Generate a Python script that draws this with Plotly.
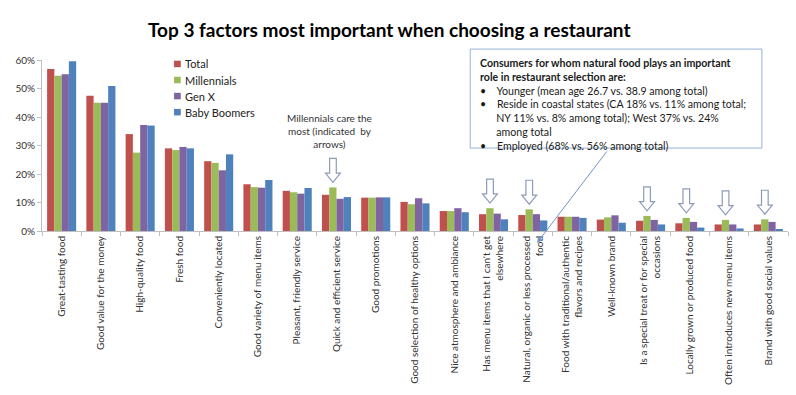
import plotly.graph_objects as go

categories = [
    "Great-tasting food",
    "Good value for the money",
    "High-quality food",
    "Fresh food",
    "Conveniently located",
    "Good variety of menu items",
    "Pleasant, friendly service",
    "Quick and efficient service",
    "Good promotions",
    "Good selection of healthy options",
    "Nice atmosphere and ambiance",
    "Has menu items that I can't get<br>elsewhere",
    "Natural, organic or less processed<br>food",
    "Food with traditional/authentic<br>flavors and recipes",
    "Well-known brand",
    "Is a special treat or for special<br>occasions",
    "Locally grown or produced food",
    "Often introduces new menu items",
    "Brand with good social values",
]

total = [56.8, 47.5, 34.0, 29.0, 24.5, 16.4, 14.1, 12.7, 11.7, 10.2, 7.0, 5.9, 5.6, 5.0, 4.0, 3.6, 2.7, 2.3, 2.3]
millennials = [54.5, 45.0, 27.5, 28.4, 23.9, 15.4, 13.6, 15.3, 11.7, 9.4, 7.0, 8.0, 7.6, 5.0, 4.8, 5.3, 4.6, 3.9, 4.1]
gen_x = [55.0, 45.0, 37.2, 29.5, 21.3, 15.2, 13.1, 11.3, 11.8, 11.5, 8.0, 6.1, 5.9, 5.0, 5.5, 3.9, 3.2, 2.3, 3.2]
baby_boomers = [59.6, 50.9, 37.0, 29.0, 26.9, 17.9, 15.1, 11.9, 11.8, 9.7, 6.6, 4.1, 3.7, 4.6, 2.9, 2.3, 1.2, 0.9, 0.6]

series_names = ["Total", "Millennials", "Gen X", "Baby Boomers"]
series_colors = ["#C0504D", "#9BBB59", "#8064A2", "#4F81BD"]

# categories where Millennials care the most (indicated by arrows)
arrow_categories = [7, 11, 12, 15, 16, 17, 18]

FONT = "Lato"

fig = go.Figure()
for name, vals, col in zip(series_names, [total, millennials, gen_x, baby_boomers], series_colors):
    fig.add_trace(go.Bar(
        name=name, x=categories, y=[v / 100 for v in vals],
        marker=dict(color=col, line=dict(width=0)), showlegend=False,
    ))

# compact legend (drawn in paper coordinates)
for k, (name, col) in enumerate(zip(series_names, series_colors)):
    yc = 0.977 - k * 0.094
    fig.add_shape(type="rect", xref="paper", yref="paper",
                  x0=0.177, x1=0.186, y0=yc - 0.019, y1=yc + 0.019,
                  line=dict(width=0), fillcolor=col)
    fig.add_annotation(xref="paper", yref="paper", x=0.189, y=yc,
                       xanchor="left", yanchor="middle", text=name, showarrow=False,
                       font=dict(family=FONT, size=11, color="#222222"))

# hollow down arrows above Millennials bars
for i in arrow_categories:
    xc = i - 0.09
    base = (millennials[i] + 1.8) / 100
    top = base + 0.084
    head = base + 0.032
    sw, hw = 0.085, 0.19
    path = (f"M {xc - sw} {top} L {xc + sw} {top} L {xc + sw} {head} "
            f"L {xc + hw} {head} L {xc} {base} L {xc - hw} {head} "
            f"L {xc - sw} {head} Z")
    fig.add_shape(type="path", path=path, xref="x", yref="y",
                  line=dict(color="#8C9CB8", width=1.2), fillcolor="white")

# call-out box
fig.add_shape(type="rect", xref="paper", yref="paper",
              x0=0.574, x1=0.965, y0=0.485, y1=1.064,
              line=dict(color="#95B3D7", width=1), fillcolor="white", layer="above")

nb = "\u00a0"
box_text = (
    "<b>Consumers for whom natural food plays an important<br>"
    "role in restaurant selection are:</b><br>"
    f"\u2022{nb*4}Younger (mean age 26.7 vs. 38.9 among total)<br>"
    f"\u2022{nb*4}Reside in coastal states (CA 18% vs. 11% among total;<br>"
    f"{nb*6}NY 11% vs. 8% among total); West 37% vs. 24%<br>"
    f"{nb*6}among total<br>"
    f"\u2022{nb*4}Employed (68% vs. 56% among total)"
)
fig.add_annotation(xref="paper", yref="paper", x=0.584, y=1.032,
                   xanchor="left", yanchor="top", align="left",
                   text=box_text, showarrow=False,
                   font=dict(family=FONT, size=10.6, color="#1a1a1a"))

# connector arrow to "Natural, organic..." label
fig.add_annotation(xref="paper", yref="paper", x=0.6635, y=-0.07,
                   ax=71, ay=-93, text="", showarrow=True,
                   arrowhead=2, arrowsize=1.2, arrowwidth=1, arrowcolor="#6F95C9")

fig.add_annotation(xref="paper", yref="paper", x=0.386, y=0.71,
                   xanchor="center", yanchor="top", align="center",
                   text="Millennials care the<br>most (indicated  by<br>arrows)",
                   showarrow=False, font=dict(family=FONT, size=10, color="#333333"))

fig.update_layout(
    width=796, height=395,
    margin=dict(l=42, r=8, t=60, b=164, autoexpand=False),
    paper_bgcolor="white", plot_bgcolor="white",
    barmode="group", bargap=0.26, bargroupgap=0,
    title=dict(text="<b>Top 3 factors most important when choosing a restaurant</b>",
               x=0.489, xanchor="center", y=0.924, yanchor="middle",
               font=dict(family=FONT, size=19, color="#000000")),
    showlegend=False,
    font=dict(family=FONT),
)
fig.update_xaxes(type="category", tickson="boundaries", ticks="outside", ticklen=4,
                 tickcolor="#BFBFBF", showline=True, linecolor="#BFBFBF",
                 tickangle=-90, tickfont=dict(family=FONT, size=10, color="#333333"),
                 showgrid=False, automargin=False)
fig.update_yaxes(range=[0, 0.6], tickvals=[0, 0.1, 0.2, 0.3, 0.4, 0.5, 0.6],
                 tickformat=".0%", ticks="outside", ticklen=4, tickcolor="#BFBFBF",
                 showline=True, linecolor="#BFBFBF", showgrid=False, zeroline=False,
                 tickfont=dict(family=FONT, size=10, color="#333333"), automargin=False)

fig.write_html("out.html", config={"displayModeBar": False},
               post_script="document.body.style.margin='0px';")
